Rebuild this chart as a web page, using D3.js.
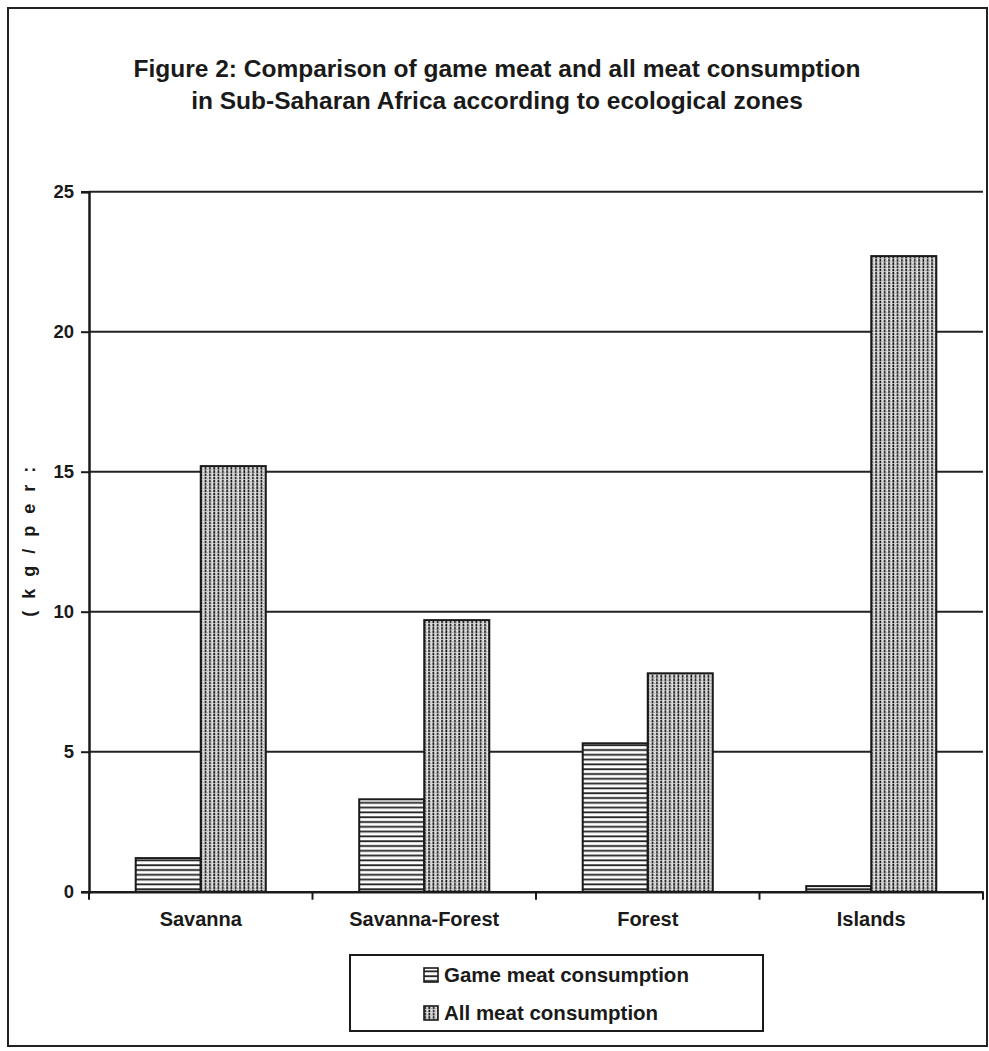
<!DOCTYPE html>
<html>
<head>
<meta charset="utf-8">
<script src="https://cdn.jsdelivr.net/npm/d3@7"></script>
<style>
  html, body { margin: 0; padding: 0; background: #fff; }
  svg { display: block; }
  text { font-family: "Liberation Sans", Arial, sans-serif; fill: #1a1a1a; }
</style>
</head>
<body>
<svg id="chart" width="989" height="1051"></svg>
<script>
// Ecological zones and per-capita consumption (kg/person/year)
const zones = ["Savanna", "Savanna-Forest", "Forest", "Islands"];
const gameMeat = [1.2, 3.3, 5.3, 0.2];
const allMeat = [15.2, 9.7, 7.8, 22.7];
const seriesNames = ["Game meat consumption", "All meat consumption"];
const yTicks = [0, 5, 10, 15, 20, 25];
const titleLines = [
  "Figure 2: Comparison of game meat and all meat consumption",
  "in Sub-Saharan Africa according to ecological zones"
];
const yLabel = "( k g / p e r :";

const svg = d3.select("#chart");
const plot = { left: 89, right: 983, top: 191.7, bottom: 891.7 };
const FONT = "Liberation Sans, Arial, sans-serif";

// Hatch patterns for the two series
const defs = svg.append("defs");
const pH = defs.append("pattern").attr("id", "hatchH")
  .attr("patternUnits", "userSpaceOnUse").attr("width", 8).attr("height", 4.8);
pH.append("rect").attr("width", 8).attr("height", 4.8).attr("fill", "#fff");
pH.append("line").attr("x1", 0).attr("x2", 8).attr("y1", 1.2).attr("y2", 1.2)
  .attr("stroke", "#1e1e1e").attr("stroke-width", 1.8);

const pV = defs.append("pattern").attr("id", "hatchV")
  .attr("patternUnits", "userSpaceOnUse").attr("width", 4.3).attr("height", 3.2);
pV.append("rect").attr("width", 4.3).attr("height", 3.2).attr("fill", "#e8e8e8");
pV.append("line").attr("x1", 1.1).attr("x2", 1.1).attr("y1", 0).attr("y2", 2.6)
  .attr("stroke", "#151515").attr("stroke-width", 1.7);
pV.append("line").attr("x1", 3.2).attr("x2", 3.2).attr("y1", 1.4).attr("y2", 2.6)
  .attr("stroke", "#888").attr("stroke-width", 0.8);

// Outer frame
svg.append("path")
  .attr("d", `M8,1046 L8,8 L987,8 L987,1046 Z`)
  .attr("fill", "none").attr("stroke", "#222").attr("stroke-width", 2);

// Title
svg.append("g").selectAll("text").data(titleLines).join("text")
  .attr("x", 497).attr("y", (d, i) => 77 + i * 32)
  .attr("text-anchor", "middle")
  .attr("font-size", 24.5).attr("font-weight", "bold")
  .text(d => d);

// Scales
const x0 = d3.scaleBand().domain(zones).range([plot.left, plot.right]).padding(0);
const y = d3.scaleLinear().domain([0, 25]).range([plot.bottom, plot.top]);
const groupW = x0.bandwidth() * 0.582;
const x1 = d3.scaleBand().domain(seriesNames).range([0, groupW]).padding(0);

// Gridlines
svg.append("g").selectAll("line").data(yTicks.filter(t => t > 0)).join("line")
  .attr("x1", plot.left).attr("x2", plot.right)
  .attr("y1", d => y(d)).attr("y2", d => y(d))
  .attr("stroke", "#222").attr("stroke-width", 2);

// Bars
const rows = zones.map((z, i) => ({ zone: z, values: [gameMeat[i], allMeat[i]] }));
const groups = svg.append("g").selectAll("g").data(rows).join("g")
  .attr("transform", d => `translate(${x0(d.zone) + (x0.bandwidth() - groupW) / 2},0)`);
groups.selectAll("rect").data(d => d.values.map((v, j) => ({ v, s: seriesNames[j], j })))
  .join("rect")
  .attr("x", d => x1(d.s)).attr("width", x1.bandwidth())
  .attr("y", d => y(d.v)).attr("height", d => y(0) - y(d.v))
  .attr("fill", d => d.j === 0 ? "url(#hatchH)" : "url(#hatchV)")
  .attr("stroke", "#1a1a1a").attr("stroke-width", 2);

// Y axis
const yAxis = d3.axisLeft(y).tickValues(yTicks).tickSize(8).tickPadding(7);
const gy = svg.append("g").attr("transform", `translate(${plot.left},0)`).call(yAxis);
gy.select(".domain").attr("stroke", "#1a1a1a").attr("stroke-width", 2.5);
gy.selectAll(".tick line").attr("stroke", "#1a1a1a").attr("stroke-width", 2);
gy.selectAll(".tick text").attr("font-size", 18.5).attr("font-weight", "bold")
  .attr("font-family", FONT).attr("fill", "#1a1a1a");

// X axis with category separator ticks
const xAxis = d3.axisBottom(x0).tickSize(0).tickPadding(20);
const gx = svg.append("g").attr("transform", `translate(0,${plot.bottom})`).call(xAxis);
gx.select(".domain").attr("stroke", "#1a1a1a").attr("stroke-width", 2.5);
gx.selectAll(".tick text").attr("font-size", 20).attr("font-weight", "bold")
  .attr("font-family", FONT).attr("fill", "#1a1a1a");
const seps = zones.map(z => x0(z)).concat([x0.range()[1]]);
gx.append("g").selectAll("line").data(seps).join("line")
  .attr("x1", d => d).attr("x2", d => d).attr("y1", 0).attr("y2", 8)
  .attr("stroke", "#1a1a1a").attr("stroke-width", 2);

// Y axis title (rotated)
svg.append("text")
  .attr("transform", "translate(35,540) rotate(-90)")
  .attr("text-anchor", "middle")
  .attr("font-size", 18).attr("font-weight", "bold")
  .attr("letter-spacing", 3.5)
  .text(yLabel);

// Legend
const lg = svg.append("g").attr("transform", "translate(350,955)");
lg.append("rect").attr("width", 413).attr("height", 76)
  .attr("fill", "#fff").attr("stroke", "#1a1a1a").attr("stroke-width", 2);
const items = lg.selectAll("g").data(seriesNames).join("g")
  .attr("transform", (d, i) => `translate(74,${20 + i * 38})`);
items.append("rect").attr("x", 0).attr("y", -7).attr("width", 14).attr("height", 14)
  .attr("fill", (d, i) => i === 0 ? "url(#hatchH)" : "url(#hatchV)")
  .attr("stroke", "#1a1a1a").attr("stroke-width", 1.6);
items.append("text").attr("x", 20).attr("y", 7)
  .attr("font-size", 20.5).attr("font-weight", "bold")
  .text(d => d);
</script>
</body>
</html>
